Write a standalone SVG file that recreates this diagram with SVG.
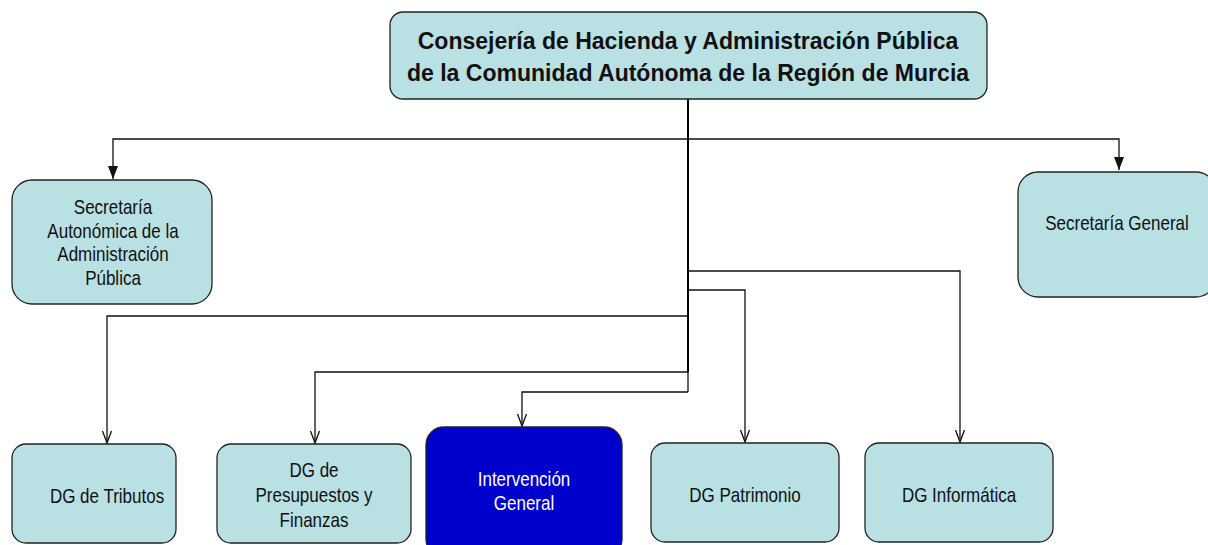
<svg xmlns="http://www.w3.org/2000/svg" width="1208" height="545" viewBox="0 0 1208 545">
<defs>
<style>
.box{fill:#b9e0e3;stroke:#222;stroke-width:1.3}
.blue{fill:#0000cc;stroke:#222;stroke-width:1.3}
.t{font-family:"Liberation Sans",Arial,sans-serif;font-size:20px;fill:#111;text-anchor:middle}
.tw{fill:#fff}
.tb{font-family:"Liberation Sans",Arial,sans-serif;font-size:24px;font-weight:bold;fill:#111;text-anchor:middle}
.c{fill:none;stroke:#111;stroke-width:1.3}
.trunk{fill:none;stroke:#000;stroke-width:2}
</style>
<marker id="ao" markerWidth="14" markerHeight="14" refX="13" refY="7" orient="auto" markerUnits="userSpaceOnUse" viewBox="0 0 14 14">
<path d="M1,2.5 L13,7 L1,11.5" fill="none" stroke="#111" stroke-width="1.3"/>
</marker>
<marker id="afill" markerWidth="14" markerHeight="14" refX="13" refY="7" orient="auto" markerUnits="userSpaceOnUse" viewBox="0 0 14 14">
<path d="M0,2 L13,7 L0,12 Z" fill="#111"/>
</marker>
</defs>
<rect width="1208" height="545" fill="#fff"/>
<g id="connectors">
<path class="c" d="M688,372 V392"/>
<path class="c" d="M688,139 H113 V179" marker-end="url(#afill)"/>
<path class="c" d="M688,139 H1119 V170" marker-end="url(#afill)"/>
<path class="c" d="M688,271 H960 V442" marker-end="url(#ao)"/>
<path class="c" d="M688,290 H745 V442" marker-end="url(#ao)"/>
<path class="c" d="M688,316 H107 V443" marker-end="url(#ao)"/>
<path class="c" d="M688,372 H315 V443" marker-end="url(#ao)"/>
<path class="c" d="M688,392 H522 V426" marker-end="url(#ao)"/>
<path class="trunk" d="M688,99 V372"/>
</g>
<g id="n-consejeria">
<rect class="box" x="390" y="12" width="597" height="87" rx="13"/>
<text class="tb" transform="matrix(0.96 0 0 1 688 0)" x="0" y="49">Consejería de Hacienda y Administración Pública</text>
<text class="tb" transform="matrix(0.96 0 0 1 688 0)" x="0" y="81">de la Comunidad Autónoma de la Región de Murcia</text>
</g>
<g id="n-secaut">
<rect class="box" x="12" y="180" width="200" height="124" rx="20"/>
<text class="t" transform="matrix(0.85 0 0 1 113 0)" x="0" y="214">Secretaría</text>
<text class="t" transform="matrix(0.85 0 0 1 113 0)" x="0" y="238">Autonómica de la</text>
<text class="t" transform="matrix(0.85 0 0 1 113 0)" x="0" y="261">Administración</text>
<text class="t" transform="matrix(0.85 0 0 1 113 0)" x="0" y="285">Pública</text>
</g>
<g id="n-secgen">
<rect class="box" x="1018" y="172" width="198" height="125" rx="20"/>
<text class="t" transform="matrix(0.85 0 0 1 1117 0)" x="0" y="230">Secretaría General</text>
</g>
<g id="n-tributos">
<rect class="box" x="12" y="444" width="164" height="99" rx="14"/>
<text class="t" transform="matrix(0.85 0 0 1 107 0)" x="0" y="503">DG de Tributos</text>
</g>
<g id="n-presupuestos">
<rect class="box" x="217" y="444" width="194" height="99" rx="14"/>
<text class="t" transform="matrix(0.85 0 0 1 314 0)" x="0" y="477">DG de</text>
<text class="t" transform="matrix(0.85 0 0 1 314 0)" x="0" y="502">Presupuestos y</text>
<text class="t" transform="matrix(0.85 0 0 1 314 0)" x="0" y="527">Finanzas</text>
</g>
<g id="n-intervencion">
<rect class="blue" x="426" y="427" width="196" height="130" rx="18"/>
<text class="t tw" transform="matrix(0.85 0 0 1 524 0)" x="0" y="486">Intervención</text>
<text class="t tw" transform="matrix(0.85 0 0 1 524 0)" x="0" y="510">General</text>
</g>
<g id="n-patrimonio">
<rect class="box" x="651" y="443" width="188" height="99" rx="14"/>
<text class="t" transform="matrix(0.85 0 0 1 745 0)" x="0" y="502">DG Patrimonio</text>
</g>
<g id="n-informatica">
<rect class="box" x="865" y="443" width="188" height="99" rx="14"/>
<text class="t" transform="matrix(0.85 0 0 1 959 0)" x="0" y="502">DG Informática</text>
</g>
</svg>
